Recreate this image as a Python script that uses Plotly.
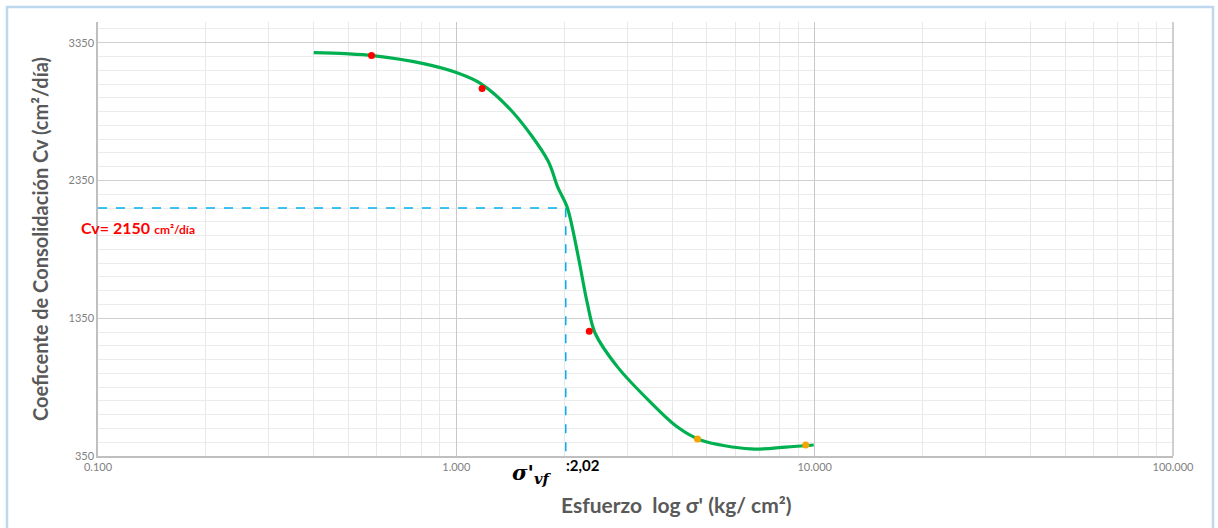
import math
import plotly.graph_objects as go

# Smoothed Cv trend (stress in kg/cm², Cv in cm²/día)
curve_x = [0.40, 0.49, 0.585, 0.81, 1.00, 1.17, 1.44, 1.80, 1.92, 2.04, 2.18, 2.32, 2.44, 2.82, 3.48, 4.14, 4.80, 6.63, 8.30, 9.94]
curve_y = [3278, 3270, 3256, 3198, 3133, 3053, 2843, 2495, 2299, 2154, 1821, 1459, 1241, 995, 741, 560, 466, 401, 415, 430]

# Measured points
red_x = [0.58, 1.18, 2.35]
red_y = [3256, 3017, 1256]
orange_x = [4.71, 9.44]
orange_y = [473, 430]

# Reading at the inflection
cv_value = 2150
sigma_vf = 2.02

x_tickvals = [0.1, 1, 10, 100]
x_ticktext = ["0.100", "1.000", "10.000", "100.000"]
y_tickvals = [350, 1350, 2350, 3350]

GRAY = "#595959"
FONT = "Lato"

fig = go.Figure()

# Reference lines for Cv and σ'vf
fig.add_trace(go.Scatter(
    x=[0.1, sigma_vf, sigma_vf], y=[cv_value, cv_value, 350],
    mode="lines", line=dict(color="#00B0F0", width=1.5, dash="dash"),
    hoverinfo="skip", showlegend=False))

fig.add_trace(go.Scatter(
    x=curve_x, y=curve_y, mode="lines",
    line=dict(color="#00B050", width=3.2, shape="spline", smoothing=0.9),
    showlegend=False))

fig.add_trace(go.Scatter(
    x=red_x, y=red_y, mode="markers",
    marker=dict(color="#FF0000", size=7), showlegend=False))
fig.add_trace(go.Scatter(
    x=orange_x, y=orange_y, mode="markers",
    marker=dict(color="#F5A500", size=7), showlegend=False))

fig.update_xaxes(
    type="log", range=[-1, 2],
    tickvals=x_tickvals, ticktext=x_ticktext,
    tickfont=dict(family=FONT, size=11, color="#7F7F7F"),
    showgrid=True, gridcolor="#C8C8C8", gridwidth=1,
    minor=dict(dtick="D1", showgrid=True, gridcolor="#E8E8E8", gridwidth=1, ticks=""),
    showline=True, linecolor="#BFBFBF", linewidth=1.5,
    ticks="", ticklen=0, zeroline=False, mirror=False,
)
fig.update_yaxes(
    range=[350, 3500],
    tickvals=y_tickvals,
    tickfont=dict(family=FONT, size=11, color="#7F7F7F"),
    showgrid=True, gridcolor="#D0D0D0", gridwidth=1,
    minor=dict(dtick=100, tick0=350, showgrid=True, gridcolor="#EBEBEB", gridwidth=1, ticks=""),
    showline=True, linecolor="#BFBFBF", linewidth=1.5,
    ticks="", zeroline=False,
)

# right-hand frame edge of the plot area
fig.add_shape(type="line", xref="paper", yref="paper", x0=1, x1=1, y0=0, y1=1,
              line=dict(color="#BFBFBF", width=1.5))

# outer chart border
fig.add_shape(type="rect", xref="paper", yref="paper",
              x0=(7 - 98) / 1075, x1=(1213 - 98) / 1075,
              y0=-0.2, y1=(456 - 7) / 434,
              line=dict(color="#BDD7EE", width=2.5))

def lx(v):
    return math.log10(v)

annotations = [
    dict(text="<b>Coeficente de Consolidación Cv (cm²/día)</b>",
         xref="paper", yref="paper", x=(40 - 98) / 1075, y=0.5,
         xanchor="center", yanchor="middle",
         textangle=-90, showarrow=False,
         font=dict(family=FONT, size=20, color=GRAY)),
    dict(text="<b>Esfuerzo  log σ' (kg/ cm²)</b>",
         xref="paper", yref="paper", x=(676 - 98) / 1075, y=(456 - 505) / 434,
         xanchor="center", yanchor="middle", showarrow=False,
         font=dict(family=FONT, size=21, color=GRAY)),
    dict(text=f"<b>Cv= {cv_value}</b> <span style='font-size:12px'><b>cm²/día</b></span>",
         xref="paper", yref="y", x=(79 - 98) / 1075, y=2010,
         xanchor="left", yanchor="middle", showarrow=False,
         font=dict(family=FONT, size=16, color="#FF0000")),
    dict(text="<b><i>σ'</i></b><sub><b><i>vf</i></b></sub>",
         xref="x", yref="paper", x=lx(sigma_vf) - 0.095, y=(456 - 473) / 434,
         xanchor="center", yanchor="middle", showarrow=False,
         font=dict(family="DejaVu Serif", size=21, color="#000000")),
    dict(text="<b>:" + f"{sigma_vf:.2f}".replace(".", ",") + "</b>",
         xref="x", yref="paper", x=lx(sigma_vf) - 0.004, y=(456 - 465) / 434,
         xanchor="left", yanchor="middle", showarrow=False,
         font=dict(family=FONT, size=15, color="#000000")),
]

fig.update_layout(
    width=1218, height=528,
    margin=dict(l=98, r=45, t=22, b=72),
    paper_bgcolor="white", plot_bgcolor="white",
    annotations=annotations,
    showlegend=False,
)

fig.write_html("out.html")
